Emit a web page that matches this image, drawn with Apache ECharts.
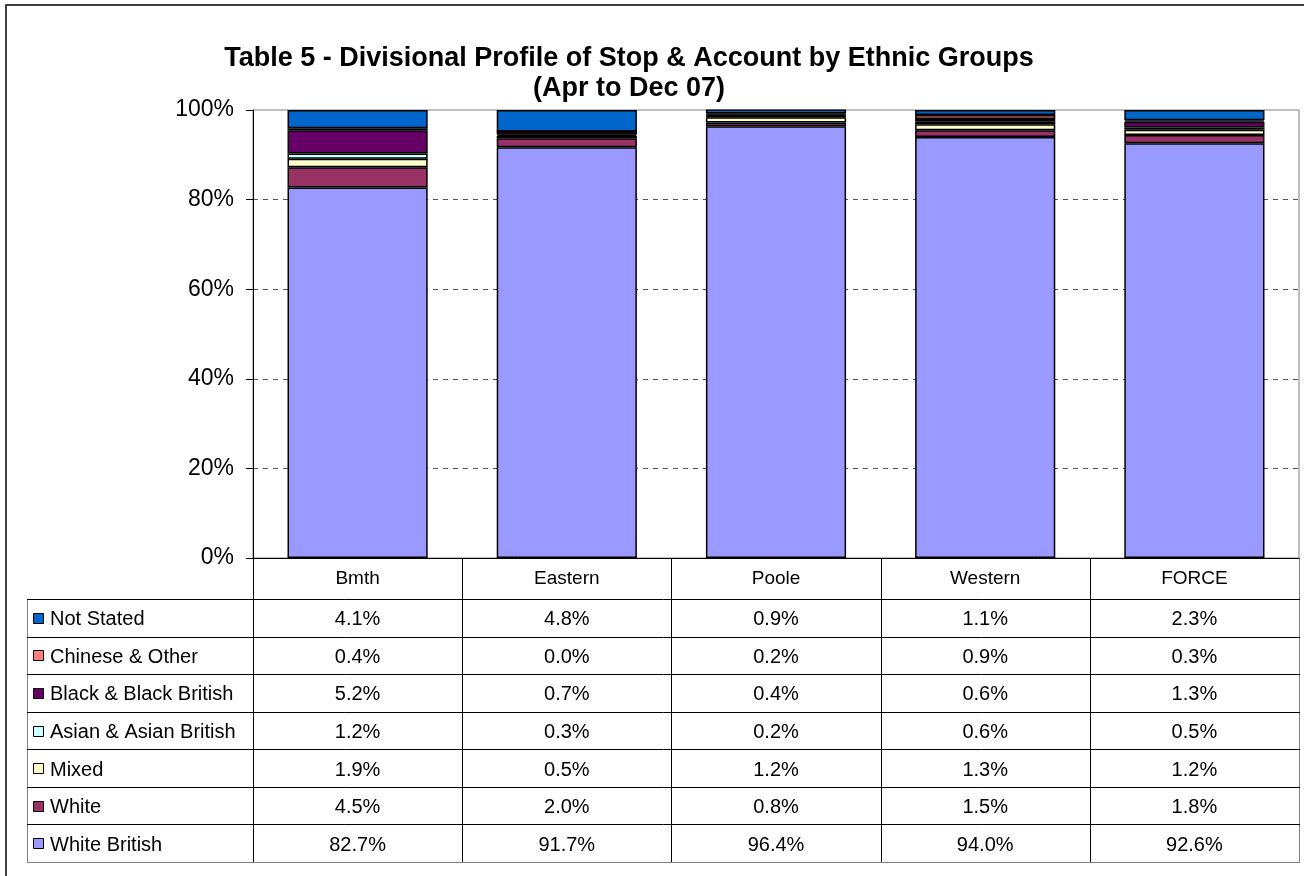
<!DOCTYPE html>
<html><head><meta charset="utf-8">
<script src="https://cdn.jsdelivr.net/npm/echarts@6/dist/echarts.min.js"></script>
<style>html,body{margin:0;padding:0;background:#fff}#c{width:1304px;height:876px}</style>
</head><body><div id="c"></div>
<script>
// ---- data ----
const categories = ['Bmth', 'Eastern', 'Poole', 'Western', 'FORCE'];
const notStated    = [4.1, 4.8, 0.9, 1.1, 2.3];
const chineseOther = [0.4, 0.0, 0.2, 0.9, 0.3];
const blackBritish = [5.2, 0.7, 0.4, 0.6, 1.3];
const asianBritish = [1.2, 0.3, 0.2, 0.6, 0.5];
const mixed        = [1.9, 0.5, 1.2, 1.3, 1.2];
const white        = [4.5, 2.0, 0.8, 1.5, 1.8];
const whiteBritish = [82.7, 91.7, 96.4, 94.0, 92.6];
const seriesNames  = ['White British', 'White', 'Mixed', 'Asian & Asian British', 'Black & Black British', 'Chinese & Other', 'Not Stated'];
const seriesValues = [whiteBritish, white, mixed, asianBritish, blackBritish, chineseOther, notStated];
const seriesColors = ['#9999FF', '#993366', '#FFFFCC', '#CCFFFF', '#660066', '#FF8080', '#0066CC'];
const yMin = 0, yMax = 100, yStep = 20;
const titleLines = ['Table 5 - Divisional Profile of Stop & Account by Ethnic Groups', '(Apr to Dec 07)'];

// ---- layout ----
const FONT = '"Liberation Sans", Arial, sans-serif';
const W = 1304, H = 876;
const gridL = 253, gridR = 1299, gridT = 110, gridB = 558;
const headerB = 599, tableB = 862, legendL = 27;

const chart = echarts.init(document.getElementById('c'));
chart.setOption({
  animation: false,
  backgroundColor: '#fff',
  grid: { left: gridL, right: W - gridR, top: gridT, bottom: H - gridB, show: true, borderColor: '#808080', borderWidth: 1 },
  xAxis: {
    type: 'category', data: categories,
    axisLine: { show: true, lineStyle: { color: '#000', width: 1 } },
    axisTick: { show: false },
    axisLabel: { show: true, fontFamily: FONT, fontSize: 19, color: '#000', margin: 21, verticalAlign: 'middle' },
    splitLine: { show: false }
  },
  yAxis: {
    type: 'value', min: yMin, max: yMax, interval: yStep,
    axisLine: { show: true, lineStyle: { color: '#000', width: 1 } },
    axisTick: { show: true, length: 7, lineStyle: { color: '#000' } },
    axisLabel: { fontFamily: FONT, fontSize: 23, color: '#000', margin: 19, formatter: '{value}%' },
    splitLine: { show: true, showMinLine: false, showMaxLine: false, lineStyle: { color: '#555', width: 1, type: [5, 5] } }
  },
  series: seriesNames.map((n, i) => ({
    name: n, type: 'bar', stack: 'total', data: seriesValues[i], barWidth: '67%',
    itemStyle: { color: seriesColors[i], borderColor: '#000', borderWidth: 1.5 }
  }))
});

// ---- table, title, border (built from the data arrays) ----
const band = (gridR - gridL) / categories.length;
const centers = categories.map((c, i) => chart.convertToPixel({ xAxisIndex: 0 }, i));
const rowH = (tableB - headerB) / seriesNames.length;
const g = [];
// outer chart border
g.push({ type: 'rect', shape: { x: 6, y: 5, width: 1400, height: 1000 }, style: { fill: null, stroke: '#000', lineWidth: 1.5 }, silent: true });
// title
titleLines.forEach((t, i) => g.push({ type: 'text', x: 629, y: 59 + i * 30, style: { text: t, font: 'bold 27px ' + FONT, fill: '#000', align: 'center', verticalAlign: 'middle' } }));
// vertical lines
for (let i = 0; i <= categories.length; i++) {
  const x = Math.round(centers[0] - band / 2 + i * band) + 0.5;
  const edge = (i === categories.length);
  g.push({ type: 'line', shape: { x1: x, y1: gridB, x2: x, y2: tableB }, style: { stroke: edge ? '#808080' : '#000', lineWidth: 1 } });
}
g.push({ type: 'line', shape: { x1: legendL + 0.5, y1: headerB, x2: legendL + 0.5, y2: tableB }, style: { stroke: '#808080', lineWidth: 1 } });
// horizontal lines
for (let r = 0; r <= seriesNames.length; r++) {
  const y = Math.round(headerB + r * rowH) + 0.5;
  const edge = (r === seriesNames.length);
  g.push({ type: 'line', shape: { x1: legendL, y1: y, x2: gridR + 1, y2: y }, style: { stroke: edge ? '#808080' : '#000', lineWidth: 1 } });
}
// rows (top row = last series)
for (let r = 0; r < seriesNames.length; r++) {
  const si = seriesNames.length - 1 - r;
  const cy = headerB + (r + 0.5) * rowH;
  g.push({ type: 'rect', shape: { x: 33.5, y: Math.round(cy) - 4.5, width: 10, height: 10 }, style: { fill: seriesColors[si], stroke: '#000', lineWidth: 1 } });
  g.push({ type: 'text', x: 50, y: cy + 2, style: { text: seriesNames[si], font: '20px ' + FONT, fill: '#000', align: 'left', verticalAlign: 'middle' } });
  seriesValues[si].forEach((v, ci) => {
    g.push({ type: 'text', x: centers[ci], y: cy + 2, style: { text: v.toFixed(1) + '%', font: '20px ' + FONT, fill: '#000', align: 'center', verticalAlign: 'middle' } });
  });
}
chart.setOption({ graphic: g });
</script>
</body></html>
